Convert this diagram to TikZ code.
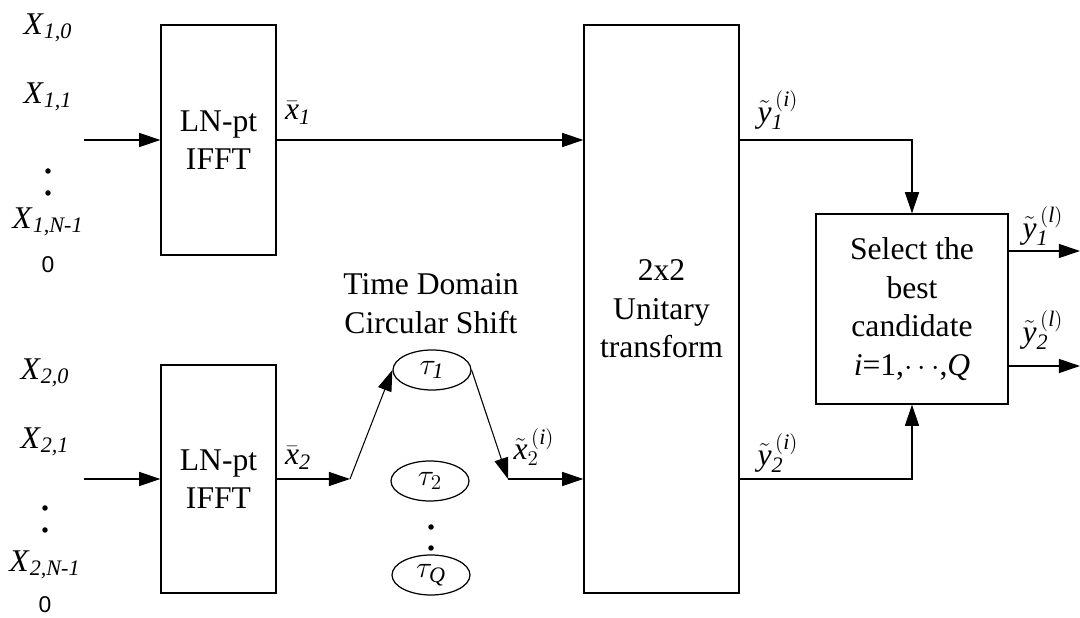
\documentclass[tikz,border=0pt]{standalone}
\usepackage{fontspec}
\setmainfont{Liberation Serif}
\newfontfamily\zerofont{Liberation Sans}
\usepackage{tikz}
\usetikzlibrary{arrows.meta,positioning,calc,shapes.geometric}
\newcommand{\sig}[2]{\textit{#1}\textsubscript{\textit{#2}}}

\begin{document}
\begin{tikzpicture}[x=0.02cm,y=-0.02cm,
  font=\fontsize{18}{22}\selectfont,
  box/.style={draw,line width=0.8pt,align=center,inner sep=0pt},
  delay/.style={draw,ellipse,line width=0.7pt,minimum width=1.56cm,minimum height=0.8cm,inner sep=0pt},
  lbl/.style={inner sep=0pt},
  zero/.style={font=\zerofont\fontsize{13}{15}\selectfont,inner sep=0pt},
  dot/.style={circle,fill,inner sep=0pt,minimum size=0.11cm},
  arr/.style={-{Triangle[length=12pt,width=8pt]},line width=0.6pt}
]
  \useasboundingbox (0,0) rectangle (1080,618);
  % blocks
  \node[box,minimum width=2.3cm,minimum height=4.6cm] (ifft1) at (218.5,140) {LN-pt\\IFFT};
  \node[box,minimum width=2.3cm,minimum height=4.56cm] (ifft2) at (218.5,479) {LN-pt\\IFFT};
  \node[box,minimum width=3.1cm,minimum height=11.36cm] (unit) at (661.5,309) {2x2\\Unitary\\transform};
  \node[box,minimum width=3.84cm,minimum height=3.8cm] (sel) at (912,309) {Select the\\best\\candidate\\$\mathit{i}$=1,$\cdots$,$\mathit{Q}$};
  % delays
  \node[delay] (tau1) at (432,370) {$\tau_{\mathit{1}}$};
  \node[delay] (tau2) at (430,481) {$\tau_{2}$};
  \node[dot] (d1) at (431,527) {};
  \node[dot] (d2) at (431,548) {};
  \node[delay] (tauq) at (431,575) {$\tau_{\mathit{Q}}$};
  \node[align=center,inner sep=0pt] (title) at (431,304) {Time Domain\\Circular Shift};
  % inputs, branch 1
  \node[lbl] (x10) at (48,28) {\sig{X}{1,0}};
  \node[lbl] (x11) at (48,97) {\sig{X}{1,1}};
  \node[dot] (e1) at (48,171) {};
  \node[dot] (e2) at (48,193) {};
  \node[lbl] (x1n) at (48,222) {\sig{X}{1,N-1}};
  \node[zero] (z1) at (48,265) {0};
  % inputs, branch 2
  \node[lbl] (x20) at (45,373) {\sig{X}{2,0}};
  \node[lbl] (x21) at (45,442) {\sig{X}{2,1}};
  \node[dot] (f1) at (45,508) {};
  \node[dot] (f2) at (45,530) {};
  \node[lbl] (x2n) at (45,565) {\sig{X}{2,N-1}};
  \node[zero] (z2) at (45,605) {0};
  % free ends
  \coordinate (in1) at (84,140);
  \coordinate (in2) at (84,479);
  \coordinate (fork) at (350,479);
  \coordinate (join) at (508,479);
  \coordinate (out1) at (1080,251);
  \coordinate (out2) at (1080,366);
  % connectors
  \draw[arr] (in1) -- (ifft1);
  \draw[arr] (in2) -- (ifft2);
  \draw[arr] (ifft1.east) -- (ifft1.east -| unit.west);
  \draw[arr] (ifft2) -- (fork);
  \draw[arr] (fork) -- (tau1.west);
  \draw[arr] (tau1.east) -- (join);
  \draw[arr] (join) -- (join -| unit.west);
  \draw[arr] (ifft1.east -| unit.east) -| (sel.north);
  \draw[arr] (ifft2.east -| unit.east) -| (sel.south);
  \draw[arr] (out1 -| sel.east) -- (out1);
  \draw[arr] (out2 -| sel.east) -- (out2);
  % signal labels
  \node[lbl] (xb1) at (298,113) {$\bar{\mathit{x}}_{\mathit{1}}$};
  \node[lbl] (xb2) at (298,458) {$\bar{\mathit{x}}_{\mathit{2}}$};
  \node[lbl] (xt2) at (534,447) {$\tilde{\mathit{x}}_{2}^{\,(\mathit{i})}$};
  \node[lbl] (yt1) at (778,110) {$\tilde{\mathit{y}}_{\mathit{1}}^{\,(\mathit{i})}$};
  \node[lbl] (yt2) at (778,453) {$\tilde{\mathit{y}}_{\mathit{2}}^{\,(\mathit{i})}$};
  \node[lbl] (yo1) at (1043,226) {$\tilde{\mathit{y}}_{\mathit{1}}^{\,(\mathit{l})}$};
  \node[lbl] (yo2) at (1043,330) {$\tilde{\mathit{y}}_{\mathit{2}}^{\,(\mathit{l})}$};
\end{tikzpicture}
\end{document}
